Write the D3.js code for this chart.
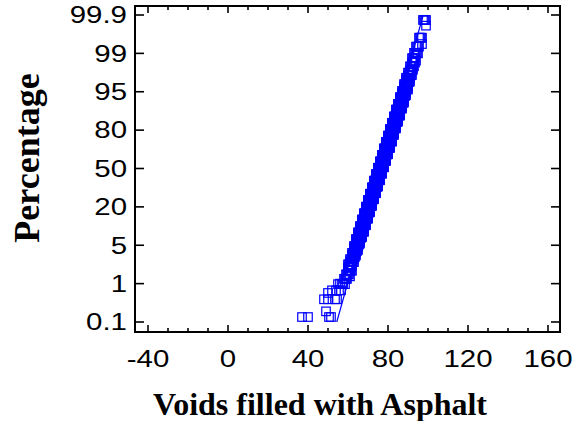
<!DOCTYPE html>
<html>
<head>
<meta charset="utf-8">
<script src="https://cdn.jsdelivr.net/npm/d3@7"></script>
<style>
  body { margin: 0; background: #fff; }
</style>
</head>
<body>
<div id="chart"></div>
<script>
// Voids filled with asphalt: overlapping samples, each as value / count tables
const sampleAValues = [37, 48, 52, 55, 58, 59, 60, 61, 62, 63, 64, 65, 66, 67, 68, 69, 70, 71, 72, 73,
                       74, 75, 76, 77, 78, 79, 80, 81, 82, 83, 84, 85, 86, 87, 88, 89, 90, 91, 92, 93,
                       94, 96, 98];
const sampleACounts = [1, 1, 1, 1, 1, 1, 3, 2, 3, 4, 6, 7, 8, 10, 11, 13, 16, 16, 18, 20,
                       20, 20, 20, 20, 19, 18, 16, 15, 12, 11, 10, 7, 7, 5, 4, 3, 2, 2, 2, 1,
                       1, 1, 1];

const sampleBValues = [40, 50, 54, 57, 59, 60, 61, 62, 63, 64, 65, 66, 67, 68, 69, 70, 71, 72, 73, 74,
                       75, 76, 77, 78, 79, 80, 81, 82, 83, 84, 85, 86, 87, 88, 89, 90, 91, 92, 93, 94,
                       95, 97, 99];
const sampleBCounts = [1, 1, 1, 1, 1, 1, 3, 2, 3, 4, 6, 7, 8, 10, 11, 13, 16, 16, 18, 20,
                       20, 20, 20, 20, 19, 18, 16, 15, 12, 11, 10, 7, 7, 5, 4, 3, 2, 2, 2, 1,
                       1, 1, 1];

const sampleCValues = [49, 50, 56, 61, 62, 63, 64, 65, 66, 67, 68, 69, 70, 71, 72, 73, 74, 75, 76, 77,
                       78, 79, 80, 81, 82, 83, 84, 85, 86, 87, 88, 89, 90, 91, 92, 93, 94, 95, 97, 99];
const sampleCCounts = [1, 1, 1, 1, 2, 2, 2, 3, 4, 4, 6, 7, 8, 9, 11, 11, 13, 13, 14, 14,
                       14, 14, 13, 12, 12, 10, 9, 7, 7, 5, 5, 3, 3, 2, 2, 1, 1, 1, 1, 1];

const sampleDValues = [51.5, 53.5, 55.5, 57.5, 58.5, 59.5, 60.5, 61.5, 62.5, 63.5, 64.5, 65.5, 66.5, 67.5,
                       68.5, 69.5, 70.5, 71.5, 72.5, 73.5, 74.5, 75.5, 76.5, 77.5, 78.5, 79.5, 80.5, 81.5,
                       82.5, 83.5, 84.5, 85.5, 86.5, 87.5, 88.5, 89.5, 90.5, 91.5, 92.5, 93.5, 94.5, 95.5,
                       97.5];
const sampleDCounts = [1, 1, 1, 1, 1, 1, 3, 2, 3, 4, 6, 7, 8, 10,
                       11, 13, 16, 16, 18, 20, 20, 20, 20, 20, 19, 18, 16, 15,
                       12, 11, 10, 7, 7, 5, 4, 3, 2, 2, 2, 1, 1, 1,
                       1];

const sampleEValues = [50.5, 54.5, 56.5, 58.5, 59.5, 60.5, 61.5, 62.5, 63.5, 64.5, 65.5, 66.5, 67.5, 68.5,
                       69.5, 70.5, 71.5, 72.5, 73.5, 74.5, 75.5, 76.5, 77.5, 78.5, 79.5, 80.5, 81.5, 82.5,
                       83.5, 84.5, 85.5, 86.5, 87.5, 88.5, 89.5, 90.5, 91.5, 92.5, 93.5, 94.5, 95.5, 96.5,
                       98.5];
const sampleECounts = [1, 1, 1, 1, 1, 1, 3, 2, 3, 4, 6, 7, 8, 10,
                       11, 13, 16, 16, 18, 20, 20, 20, 20, 20, 19, 18, 16, 15,
                       12, 11, 10, 7, 7, 5, 4, 3, 2, 2, 2, 1, 1, 1,
                       1];

// fitted normal line
const fitMean = 76;
const fitSd = 7.0;

// axis labels
const pctTicks = [0.1, 1, 5, 20, 50, 80, 95, 99, 99.9];
const xTicks = [-40, 0, 40, 80, 120, 160];
const xMinorStep = 10;

const width = 580, height = 421;
const margin = { top: 6, right: 20, bottom: 89, left: 135 };
const innerW = width - margin.left - margin.right;
const innerH = height - margin.top - margin.bottom;
const textStretch = 1.28;
const boxSize = 8.5;

// inverse normal cdf (Acklam)
function probit(p) {
    const a = [-3.969683028665376e+01, 2.209460984245205e+02, -2.759285104469687e+02, 1.383577518672690e+02, -3.066479806614716e+01, 2.506628277459239e+00];
    const b = [-5.447609879822406e+01, 1.615858368580409e+02, -1.556989798598866e+02, 6.680131188771972e+01, -1.328068155288572e+01];
    const c = [-7.784894002430293e-03, -3.223964580411365e-01, -2.400758277161838e+00, -2.549732539343734e+00, 4.374664141464968e+00, 2.938163982698783e+00];
    const d = [7.784695709041462e-03, 3.224671290700398e-01, 2.445134137142996e+00, 3.754408661907416e+00];
    const pl = 0.02425;
    let q, r;
    if (p < pl) {
        q = Math.sqrt(-2 * Math.log(p));
        return (((((c[0]*q+c[1])*q+c[2])*q+c[3])*q+c[4])*q+c[5]) / ((((d[0]*q+d[1])*q+d[2])*q+d[3])*q+1);
    }
    if (p > 1 - pl) {
        q = Math.sqrt(-2 * Math.log(1 - p));
        return -(((((c[0]*q+c[1])*q+c[2])*q+c[3])*q+c[4])*q+c[5]) / ((((d[0]*q+d[1])*q+d[2])*q+d[3])*q+1);
    }
    q = p - 0.5; r = q * q;
    return (((((a[0]*r+a[1])*r+a[2])*r+a[3])*r+a[4])*r+a[5])*q / (((((b[0]*r+b[1])*r+b[2])*r+b[3])*r+b[4])*r+1);
}

// expand a table into its sorted sample with plotting positions (i - 0.5) / n
function toPoints(values, counts) {
    const s = [];
    values.forEach((v, i) => { for (let k = 0; k < counts[i]; k++) s.push(v); });
    return s.map((v, i) => ({ x: v, pct: 100 * (i + 0.5) / s.length }));
}
const points = [].concat(
    toPoints(sampleAValues, sampleACounts),
    toPoints(sampleBValues, sampleBCounts),
    toPoints(sampleCValues, sampleCCounts),
    toPoints(sampleDValues, sampleDCounts),
    toPoints(sampleEValues, sampleECounts)
);

const svg = d3.select('#chart').append('svg')
    .attr('width', width)
    .attr('height', height)
    .style('font-family', 'Liberation Sans, Arial, sans-serif');

const g = svg.append('g').attr('transform', `translate(${margin.left},${margin.top})`);

const x = d3.scaleLinear().domain([-46.5, 166]).range([0, innerW]);

// percentage labels are evenly spaced, so the normal scale is piecewise
const yTop = 9, yBottom = innerH - 10;
const y = d3.scaleLinear()
    .domain(pctTicks.map(p => probit(p / 100)))
    .range(pctTicks.map((p, i) => yBottom - i * (yBottom - yTop) / (pctTicks.length - 1)));
const yp = p => y(probit(p / 100));

// points
g.append('g').selectAll('rect')
    .data(points)
    .enter()
    .append('rect')
    .attr('x', d => x(d.x) - boxSize / 2)
    .attr('y', d => yp(d.pct) - boxSize / 2)
    .attr('width', boxSize)
    .attr('height', boxSize)
    .attr('fill', 'none')
    .attr('stroke', '#0000ff')
    .attr('stroke-width', 1.2);

// fitted line between 0.1 and 99.9
const linePts = [pctTicks[0], pctTicks[pctTicks.length - 1]]
    .map(p => ({ x: fitMean + fitSd * probit(p / 100), pct: p }));
g.append('path')
    .datum(linePts)
    .attr('d', d3.line().x(d => x(d.x)).y(d => yp(d.pct)))
    .attr('stroke', '#0000ff')
    .attr('stroke-width', 1.2)
    .attr('fill', 'none');

// frame
g.append('rect')
    .attr('width', innerW)
    .attr('height', innerH)
    .attr('fill', 'none')
    .attr('stroke', '#000')
    .attr('stroke-width', 2);

// x ticks (major + minor), bottom and top, pointing inward
const minorTicks = d3.range(-40, 161, xMinorStep);
const tickG = g.append('g').attr('stroke', '#000').attr('stroke-width', 1.6);
minorTicks.forEach(t => {
    const len = xTicks.includes(t) ? 7 : 4;
    tickG.append('line').attr('x1', x(t)).attr('x2', x(t)).attr('y1', innerH).attr('y2', innerH - len);
    tickG.append('line').attr('x1', x(t)).attr('x2', x(t)).attr('y1', 0).attr('y2', len);
});
pctTicks.forEach(p => {
    tickG.append('line').attr('x1', 0).attr('x2', 9).attr('y1', yp(p)).attr('y2', yp(p));
    tickG.append('line').attr('x1', innerW).attr('x2', innerW - 9).attr('y1', yp(p)).attr('y2', yp(p));
});

// tick labels
g.append('g').selectAll('text')
    .data(pctTicks)
    .enter()
    .append('text')
    .attr('transform', d => `translate(-8,${yp(d)}) scale(${textStretch},1)`)
    .attr('text-anchor', 'end')
    .attr('dy', '0.36em')
    .attr('font-size', 23)
    .text(d => d);

g.append('g').selectAll('text')
    .data(xTicks)
    .enter()
    .append('text')
    .attr('transform', d => `translate(${x(d)},${innerH + 35}) scale(${textStretch},1)`)
    .attr('text-anchor', 'middle')
    .attr('font-size', 23)
    .text(d => d);

// axis titles
svg.append('text')
    .attr('x', 320)
    .attr('y', 415)
    .attr('text-anchor', 'middle')
    .attr('font-family', 'Liberation Serif, Times New Roman, serif')
    .attr('font-weight', 'bold')
    .attr('font-size', 32)
    .text('Voids filled with Asphalt');

svg.append('text')
    .attr('transform', 'translate(39,158) rotate(-90)')
    .attr('text-anchor', 'middle')
    .attr('font-family', 'Liberation Serif, Times New Roman, serif')
    .attr('font-weight', 'bold')
    .attr('font-size', 36)
    .text('Percentage');
</script>
</body>
</html>
